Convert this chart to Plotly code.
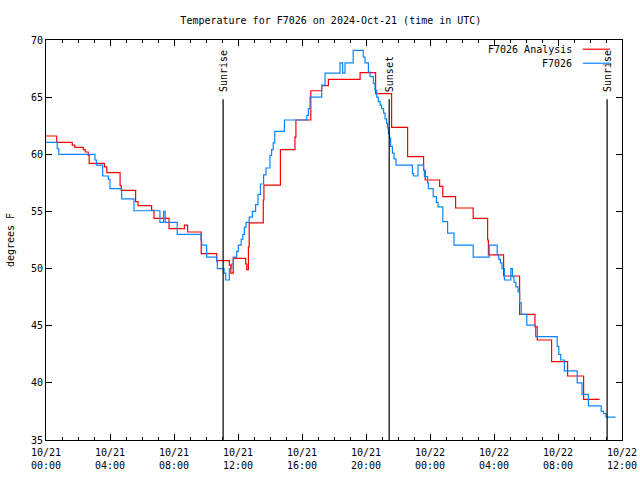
import pandas as pd
import plotly.graph_objects as go

BASE = pd.Timestamp("2024-10-21 00:00")

# F7026 Analysis (hours since 10/21 00:00 UTC, degrees F), stepped
analysis_hours = [0, 0.67, 1.64, 1.8, 2.33, 2.45, 2.64, 2.7, 3.65, 3.8, 4.63, 4.7,
                  5.6, 5.75, 6.6, 6.75, 7.69, 8.65, 8.85, 9.7, 10.67, 11.46, 11.55,
                  11.7, 12.48, 12.55, 12.65, 12.7, 13.58, 13.62, 14.65, 15.56, 15.62,
                  16.55, 17.23, 17.65, 19.63, 20.6, 21.6, 22.6, 23.6, 23.7, 24.6,
                  24.8, 25.6, 26.7, 27.6, 27.65, 28.6, 29.6, 30.56, 30.7, 31.6,
                  32.6, 33.6, 34.6]
analysis_temp = [61.6, 61.05, 60.8, 60.6, 60.4, 60.2, 59.9, 59.2, 58.9, 58.4, 57.25, 56.85,
                 55.85, 55.5, 55.1, 54.4, 53.5, 53.8, 53.2, 51.3, 50.7, 50.3, 49.6,
                 50.9, 50.4, 49.9, 51.9, 54.0, 56.0, 57.3, 60.4, 61.5, 63.0,
                 65.56, 66.0, 66.55, 67.15, 65.3, 62.35, 59.8, 58.6, 57.75, 57.2,
                 56.3, 55.3, 54.4, 52.5, 51.2, 49.35, 46.0, 44.9, 43.75, 41.85,
                 40.6, 38.56, 38.56]

# F7026 observations
obs_hours = [0, 0.7, 0.8, 3.06, 3.15, 3.54, 3.9, 4.0, 4.73, 5.5, 7.12, 7.35, 7.45,
             8.2, 9.69, 9.73, 10.04, 10.67, 10.71, 11.13, 11.23, 11.46, 11.6, 11.71,
             11.92, 12.02, 12.2, 12.3, 12.4, 12.5, 12.7, 12.9, 13.1, 13.25, 13.4,
             13.6, 13.75, 14.0, 14.1, 14.2, 14.3, 14.9, 16.3, 16.4, 16.5, 17.23,
             17.44, 18.375, 18.54, 18.69, 19.2, 19.83, 19.94, 20.15, 20.25, 20.46,
             20.56, 20.67, 20.77, 20.88, 20.98, 21.1, 21.19, 21.29, 21.35, 21.4,
             21.47, 21.54, 21.65, 21.75, 21.875, 22.9, 22.97, 23.25, 23.6, 23.65,
             23.85, 23.9, 24.2, 24.4, 24.5, 24.8, 25.1, 25.5, 26.7, 27.7, 28.2,
             28.3, 28.4, 28.5, 28.65, 29.05, 29.15, 29.25, 29.37, 29.5, 29.6, 29.7,
             30.05, 30.6, 31.95, 32.05, 32.17, 32.4, 33.2, 33.5, 33.9, 34.7, 34.85,
             35.0, 35.6]
obs_temp = [61.05, 60.5, 60.0, 59.5, 59.06, 58.1, 57.8, 57.0, 56.1, 55.06, 54.05, 55.0, 54.05,
            53.0, 52.5, 52.06, 51.0, 50.6, 50.0, 49.6, 49.0, 50.0, 50.4, 51.0,
            51.5, 52.06, 52.56, 53.0, 53.6, 54.05, 54.5, 55.0, 55.6, 56.5, 57.4,
            58.2, 58.8, 59.9, 60.4, 61.0, 62.0, 63.0, 63.4, 64.0, 65.0, 66.05,
            67.1, 68.0, 67.1, 68.0, 69.1, 68.5, 68.0, 67.2, 66.8, 66.2,
            65.6, 65.0, 64.6, 64.3, 64.0, 63.6, 63.1, 62.7, 62.3, 61.8,
            61.4, 60.7, 60.1, 59.6, 59.06, 58.3, 58.1, 59.06, 58.6, 58.04,
            57.5, 57.0, 56.3, 55.8, 55.4, 54.1, 53.1, 52.06, 51.0, 52.06, 51.2,
            50.8, 50.5, 50.0, 49.0, 50.0, 49.3, 48.8, 48.4, 47.96, 47.0, 46.0,
            45.06, 44.04, 43.2, 42.5, 42.0, 41.04, 40.0, 39.0, 37.98, 37.5, 37.3,
            37.0, 37.0]

# Sunrise / sunset markers (hours since 10/21 00:00 UTC)
event_hours = [11.07, 21.45, 35.07]
event_labels = ["Sunrise", "Sunset", "Sunrise"]

tick_hours = [0, 4, 8, 12, 16, 20, 24, 28, 32, 36]
tick_labels = ["10/21<br>00:00", "10/21<br>04:00", "10/21<br>08:00", "10/21<br>12:00",
               "10/21<br>16:00", "10/21<br>20:00", "10/22<br>00:00", "10/22<br>04:00",
               "10/22<br>08:00", "10/22<br>12:00"]

def to_time(hours):
    return [BASE + pd.Timedelta(hours=h) for h in hours]

FONT = "DejaVu Sans Mono"
RED = "#ff0000"
BLUE = "#0a84ff"

fig = go.Figure()
fig.add_trace(go.Scatter(x=to_time(analysis_hours), y=analysis_temp, mode="lines",
                         line=dict(color=RED, width=1.2, shape="hv"),
                         name="F7026 Analysis"))
fig.add_trace(go.Scatter(x=to_time(obs_hours), y=obs_temp, mode="lines",
                         line=dict(color=BLUE, width=1.2, shape="hv"),
                         name="F7026"))

for h, lab in zip(event_hours, event_labels):
    t = BASE + pd.Timedelta(hours=h)
    fig.add_shape(type="line", xref="x", yref="paper", x0=t, x1=t, y0=0, y1=0.852,
                  line=dict(color="black", width=1.2))
    fig.add_annotation(x=t, xref="x", y=0.865, yref="paper", text=lab, textangle=-90,
                       showarrow=False, xanchor="center", yanchor="bottom",
                       font=dict(family=FONT, size=10, color="black"))

# custom legend (text then sample line, gnuplot style)
legend_items = [("F7026 Analysis", RED), ("F7026", BLUE)]
for i, (name, col) in enumerate(legend_items):
    yp = 0.977 - i * 0.035
    fig.add_annotation(x=0.917, xref="paper", y=yp, yref="paper", text=name,
                       showarrow=False, xanchor="right", yanchor="middle",
                       font=dict(family=FONT, size=10, color="black"))
    fig.add_shape(type="line", xref="paper", yref="paper", x0=0.932, x1=0.979,
                  y0=yp, y1=yp, line=dict(color=col, width=1.2))

fig.update_layout(
    width=640, height=480,
    margin=dict(l=46, r=18, t=40, b=40, autoexpand=False),
    paper_bgcolor="white", plot_bgcolor="white",
    showlegend=False,
    title=dict(text="Temperature for F7026 on 2024-Oct-21 (time in UTC)",
               x=0.517, xanchor="center", xref="container",
               y=0.958, yanchor="middle", yref="container",
               font=dict(family=FONT, size=10, color="black")),
    font=dict(family=FONT, size=10, color="black"),
)

fig.update_xaxes(
    type="date", automargin=False,
    range=[BASE, BASE + pd.Timedelta(hours=36)],
    tickvals=to_time(tick_hours), ticktext=tick_labels,
    ticks="inside", ticklen=6, tickcolor="black", tickwidth=1,
    ticklabelstandoff=3,
    minor=dict(ticks="inside", ticklen=3, dtick=3600000, tickcolor="black",
               showgrid=False),
    showline=True, linecolor="black", linewidth=1, mirror="ticks",
    showgrid=False, zeroline=False,
    tickfont=dict(family=FONT, size=10, color="black"),
)
fig.update_yaxes(
    automargin=False,
    range=[35, 70], dtick=5, tick0=35,
    ticks="inside", ticklen=6, tickcolor="black", tickwidth=1,
    showline=True, linecolor="black", linewidth=1, mirror="ticks",
    showgrid=False, zeroline=False,
    tickfont=dict(family=FONT, size=10, color="black"),
    title=dict(text="degrees F", standoff=14,
               font=dict(family=FONT, size=10, color="black")),
)

fig.write_html("out.html",
               config={"displayModeBar": False},
               post_script="document.body.style.margin='0px';document.body.style.padding='0px';")
